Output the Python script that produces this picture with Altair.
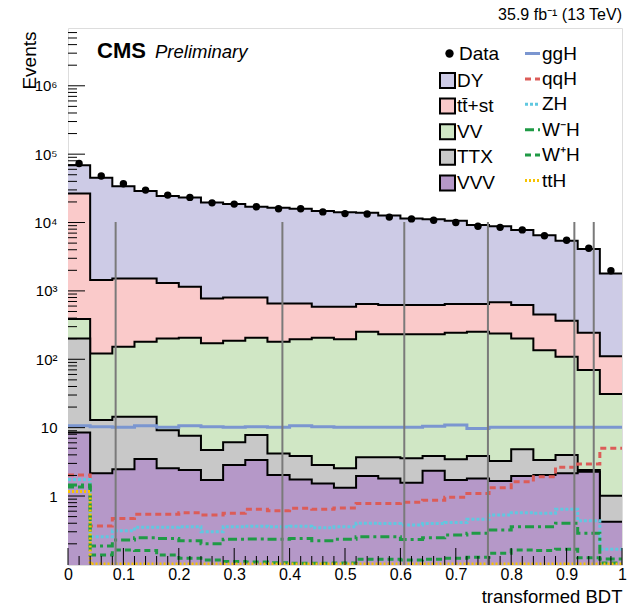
import altair as alt
import pandas as pd

# ---------------- data ----------------
BIN_EDGES = [0.00, 0.04, 0.08, 0.12, 0.16, 0.20, 0.24, 0.28, 0.32, 0.36, 0.40, 0.44, 0.48,
             0.52, 0.56, 0.60, 0.64, 0.68, 0.72, 0.76, 0.80, 0.84, 0.88, 0.92, 0.96, 1.00]

DATA = [73000, 48000, 37000, 29800, 25200, 23300, 19400, 18600, 17000, 15900, 15900, 14300, 13500,
        13300, 12000, 11300, 10800, 10000, 8800, 8500, 7800, 6400, 5500, 4200, 1970]

DY = [42400, 43560, 32480, 27280, 23190, 22150, 18920, 17800, 16200, 15740, 15240, 14110, 13610,
      13260, 12080, 10880, 10580, 9960, 8560, 8120, 7180, 6050, 5030, 3860, 1690]
TTST = [26210, 1318, 1368, 1340, 1108, 943, 606, 616, 595, 476, 459, 379, 389,
        389, 387, 387, 387, 397, 389, 445, 418, 317, 257, 175, 80]
VV = [185, 109, 137.6, 165.6, 192.8, 199.4, 166.3, 179.9, 199.2, 175.8, 193.2, 204.2, 194.5,
      248.3, 229.3, 229.4, 229.2, 240.6, 248.2, 235.8, 197.2, 132.6, 105, 67.1, 30]
TTX = [193.5, 10.75, 11.94, 10.93, 6.66, 5.2, 2.99, 3.26, 4.44, 2.17, 2.10, 1.31, 1.22,
       1.72, 1.87, 1.99, 1.51, 1.73, 2.04, 1.59, 2.86, 1.33, 1.83, 0.13, 0.59]
VVV = [8.5, 2.15, 2.46, 3.47, 2.54, 2.40, 1.71, 2.84, 3.36, 2.03, 1.75, 1.53, 1.32,
       1.96, 1.81, 1.57, 2.34, 1.71, 1.81, 1.66, 1.96, 2.03, 2.15, 2.27, 0.42]

GGH = [10.7, 10.3, 10.1, 10.7, 10.1, 10.7, 10.3, 10.1, 10.3, 10.1, 10.7, 10.3, 10.1,
       10.1, 10.1, 10.1, 10.5, 10.9, 9.75, 10.1, 10.1, 10.1, 10.1, 10.1, 10.1]
QQH = [2.03, 0.364, 0.47, 0.54, 0.54, 0.57, 0.53, 0.56, 0.64, 0.61, 0.66, 0.64, 0.67,
       0.78, 0.78, 0.81, 0.87, 0.96, 1.09, 1.32, 1.62, 1.91, 2.63, 2.94, 4.98]
ZH = [1.75, 0.254, 0.31, 0.35, 0.35, 0.355, 0.30, 0.355, 0.36, 0.355, 0.36, 0.345, 0.355,
      0.40, 0.395, 0.377, 0.395, 0.41, 0.456, 0.527, 0.57, 0.56, 0.64, 0.435, 0.166]
WMH = [1.45, 0.186, 0.227, 0.246, 0.24, 0.222, 0.20, 0.233, 0.235, 0.233, 0.24, 0.222, 0.233,
       0.254, 0.254, 0.232, 0.246, 0.27, 0.285, 0.318, 0.355, 0.355, 0.40, 0.285, 0.12]
WPH = [1.35, 0.137, 0.163, 0.16, 0.137, 0.123, 0.116, 0.11, 0.108, 0.106, 0.104, 0.104, 0.105,
       0.119, 0.119, 0.116, 0.119, 0.123, 0.127, 0.145, 0.163, 0.16, 0.166, 0.125, 0.105]
TTH = [1.16, 0.101, 0.101, 0.101, 0.101, 0.101, 0.101, 0.101, 0.101, 0.101, 0.101, 0.101, 0.101,
       0.101, 0.101, 0.101, 0.101, 0.101, 0.101, 0.101, 0.101, 0.101, 0.101, 0.101, 0.101]

CATEGORY_EDGES = [0.086, 0.387, 0.607, 0.758, 0.914, 0.949]

BKG_NAMES = ["DY", "tt\u0304+st", "VV", "TTX", "VVV"]
BKG_COLORS = ["#cdcbe6", "#facaca", "#d0e7c5", "#c8c8c8", "#b598c8"]
SIG_NAMES = ["ggH", "qqH", "ZH", "W\u207bH", "W\u207aH", "ttH"]
SIG_COLORS = ["#7b96d0", "#dc5c58", "#60c8e0", "#1f9a45", "#1f9a45", "#f7c300"]
SIG_DASH = [[1, 0], [6, 4], [3, 2], [9, 4, 3, 4], [6, 4], [2, 2]]

X_MAJOR = [0, 0.1, 0.2, 0.3, 0.4, 0.5, 0.6, 0.7, 0.8, 0.9, 1.0]
Y_MAJOR = [1, 10, 100, 1000, 10000, 100000, 1000000]

# ---------------- geometry / style ----------------
W, H = 554, 537
FONT = "Liberation Sans"

xs = alt.Scale(domain=[0, 1], nice=False, zero=False)
ys = alt.Scale(type="log", domain=[0.098, 7e6], nice=False)

x_axis = alt.Axis(values=X_MAJOR, format="~g", ticks=False, domain=False, grid=False,
                  labelFont=FONT, labelFontSize=16, labelColor="black", labelPadding=1,
                  labelFlush=False,
                  titleFont=FONT, titleFontSize=18.5, titleFontWeight="normal", titleColor="black",
                  titleX=W, titleY=37, titleAlign="right", titleBaseline="alphabetic")
y_label_expr = ("datum.value == 1 ? '1' : datum.value == 10 ? '10' : datum.value == 100 ? '10\u00b2' : "
                "datum.value == 1000 ? '10\u00b3' : datum.value == 10000 ? '10\u2074' : "
                "datum.value == 100000 ? '10\u2075' : '10\u2076'")
y_axis = alt.Axis(values=Y_MAJOR, labelExpr=y_label_expr, ticks=False, domain=False, grid=False,
                  labelFont=FONT, labelFontSize=15, labelColor="black", labelPadding=11,
                  titleFont=FONT, titleFontSize=19, titleFontWeight="normal", titleColor="black",
                  titleAngle=270, titleX=-33, titleY=3, titleAlign="right",
                  titleBaseline="alphabetic")


def X(field):
    return alt.X(field, type="quantitative", scale=xs, axis=x_axis, title="transformed BDT")


def Y(field):
    return alt.Y(field, type="quantitative", scale=ys, axis=y_axis, title="Events")


def steps(values):
    """step-after rows: one per bin lower edge, plus the closing edge."""
    return list(values) + [values[-1]]


# ---------------- background stack ----------------
stack_bottom_up = [VVV, TTX, VV, TTST, DY]
names_bottom_up = BKG_NAMES[::-1]
cum = []
running = [0.0] * len(DY)
for comp in stack_bottom_up:
    running = [r + c for r, c in zip(running, comp)]
    cum.append(list(running))

fill_scale = alt.Scale(domain=BKG_NAMES, range=BKG_COLORS)
fill_legend = alt.Legend(orient="none", legendX=370, legendY=43, title=None,
                         symbolType="square", symbolSize=225, symbolStrokeColor="black",
                         symbolStrokeWidth=2, symbolOpacity=1,
                         labelFont=FONT, labelFontSize=19, labelColor="black", labelOffset=0,
                         rowPadding=2.6, labelLimit=200)

layers = []
for name, tops in zip(names_bottom_up[::-1], cum[::-1]):
    df = pd.DataFrame({"x": BIN_EDGES, "y": steps(tops), "proc": name})
    area = alt.Chart(df).mark_area(interpolate="step-after", clip=True, opacity=1).encode(
        x=X("x"), y=Y("y"), y2=alt.datum(0.098),
        fill=alt.Fill("proc:N", scale=fill_scale, legend=fill_legend))
    edge = alt.Chart(df).mark_line(interpolate="step-after", clip=True, color="black",
                                   strokeWidth=2).encode(x=X("x"), y=Y("y"))
    layers += [area, edge]

# ---------------- signals ----------------
sig_rows = []
for name, vals in zip(SIG_NAMES, [GGH, QQH, ZH, WMH, WPH, TTH]):
    for xe, v in zip(BIN_EDGES, steps(vals)):
        sig_rows.append({"x": xe, "y": v, "sig": name})
sig_df = pd.DataFrame(sig_rows)
sig_legend = alt.Legend(orient="none", legendX=455, legendY=16, title=None,
                        symbolType="stroke", symbolSize=225, symbolStrokeWidth=3,
                        labelFont=FONT, labelFontSize=19, labelColor="black", labelOffset=0,
                        rowPadding=5.4, labelLimit=200)
signals = alt.Chart(sig_df).mark_line(interpolate="step-after", clip=True, strokeWidth=3).encode(
    x=X("x"), y=Y("y"),
    stroke=alt.Stroke("sig:N", scale=alt.Scale(domain=SIG_NAMES, range=SIG_COLORS), legend=sig_legend),
    strokeDash=alt.StrokeDash("sig:N", scale=alt.Scale(domain=SIG_NAMES, range=SIG_DASH),
                              legend=sig_legend))
layers.append(signals)

# ---------------- category boundaries ----------------
cat_df = pd.DataFrame({"x": CATEGORY_EDGES})
cats = alt.Chart(cat_df).mark_rule(color="#7a7a7a", strokeWidth=2).encode(
    x=X("x"), y=alt.datum(0.098), y2=alt.datum(10200))
layers.append(cats)

# ---------------- data points ----------------
centers = [(a + b) / 2 for a, b in zip(BIN_EDGES[:-1], BIN_EDGES[1:])]
data_df = pd.DataFrame({"x": centers, "y": DATA, "lab": "Data"})
data_legend = alt.Legend(orient="none", legendX=372, legendY=16, title=None,
                         symbolSize=70, symbolFillColor="black", symbolStrokeColor="black",
                         labelFont=FONT, labelFontSize=19, labelColor="black", labelOffset=0)
points = alt.Chart(data_df).mark_point(filled=True, color="black", size=55, opacity=1).encode(
    x=X("x"), y=Y("y"),
    shape=alt.Shape("lab:N", scale=alt.Scale(domain=["Data"], range=["circle"]), legend=data_legend))
layers.append(points)

# ---------------- inner ticks (ROOT style) ----------------
x_minor = [round(i * 0.02, 2) for i in range(51) if i % 5 != 0]
y_minor = [k * 10 ** e for e in range(-1, 7) for k in range(2, 10) if k * 10 ** e < 7e6]
layers.append(alt.Chart(pd.DataFrame({"x": X_MAJOR})).mark_rule(color="black", strokeWidth=1).encode(
    x=X("x"), y=alt.value(H), y2=alt.value(H - 17)))
layers.append(alt.Chart(pd.DataFrame({"x": x_minor})).mark_rule(color="black", strokeWidth=1).encode(
    x=X("x"), y=alt.value(H), y2=alt.value(H - 9)))
layers.append(alt.Chart(pd.DataFrame({"y": Y_MAJOR})).mark_rule(color="black", strokeWidth=1).encode(
    y=Y("y"), x=alt.value(0), x2=alt.value(17)))
layers.append(alt.Chart(pd.DataFrame({"y": y_minor})).mark_rule(color="black", strokeWidth=1).encode(
    y=Y("y"), x=alt.value(0), x2=alt.value(9)))

# ---------------- texts ----------------
def label(text, x, y, size, weight="normal", style="normal", align="left"):
    return alt.Chart(pd.DataFrame({"t": [text]})).mark_text(
        font=FONT, fontSize=size, fontWeight=weight, fontStyle=style, align=align,
        baseline="alphabetic", color="black").encode(
        text="t:N", x=alt.value(x), y=alt.value(y))


layers.append(label("CMS", 29, 30, 22, weight="bold"))
layers.append(label("Preliminary", 87, 30, 18.5, style="italic"))
layers.append(label("35.9 fb\u207b\u00b9 (13 TeV)", W, -8, 16, align="right"))

chart = alt.layer(*layers).properties(
    width=W, height=H,
    autosize=alt.AutoSizeParams(type="none"),
    padding={"left": 68, "top": 28, "right": 6, "bottom": 42},
).configure_view(stroke="black", strokeWidth=1.2).configure(background="white")

chart.save("out.html", embed_options={"renderer": "svg", "actions": False})
